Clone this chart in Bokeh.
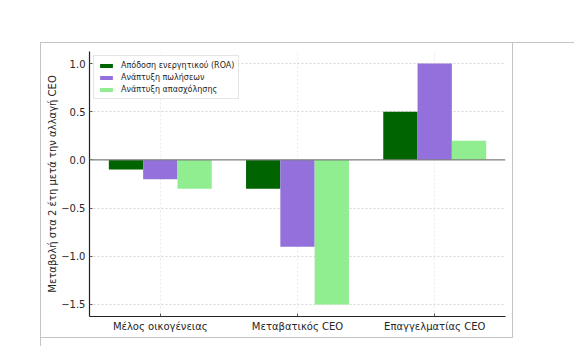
from bokeh.plotting import figure
from bokeh.models import Range1d, FactorRange, Span, Legend, LegendItem, FixedTicker, Div, Spacer
from bokeh.layouts import column, row
from bokeh.transform import dodge
from bokeh.embed import file_html
from bokeh.resources import INLINE

categories = ["Μέλος οικογένειας", "Μεταβατικός CEO", "Επαγγελματίας CEO"]
series_names = ["Απόδοση ενεργητικού (ROA)", "Ανάπτυξη πωλήσεων", "Ανάπτυξη απασχόλησης"]
roa = [-0.1, -0.3, 0.5]
sales = [-0.2, -0.9, 1.0]
employment = [-0.3, -1.5, 0.2]
y_ticks = [-1.5, -1.0, -0.5, 0.0, 0.5, 1.0]
y_label = "Μεταβολή στα 2 έτη μετά την αλλαγή CEO"

colors = ["#006400", "#9370DB", "#90EE90"]
FONT = "DejaVu Sans"
EDGE = "#c4c4c4"

p = figure(width=471, height=294, output_backend="svg", toolbar_location=None,
           x_range=FactorRange(*categories, range_padding=0.016, range_padding_units="absolute"),
           y_range=Range1d(-1.625, 1.125),
           min_border_left=48, min_border_right=7, min_border_top=8, min_border_bottom=21)
p.outline_line_color = None
p.background_fill_color = "white"
p.border_fill_color = "white"

data = dict(cat=categories, roa=roa, sales=sales, emp=employment)
renderers = []
for i, (key, col) in enumerate(zip(["roa", "sales", "emp"], colors)):
    r = p.vbar(x=dodge("cat", (i - 1) * 0.25, range=p.x_range), top=key, bottom=0, width=0.25,
               source=data, fill_color=col, line_color=None)
    renderers.append(r)

p.add_layout(Span(location=0, dimension="width", line_color="#808080", line_width=1.2))

# grid
p.ygrid.ticker = FixedTicker(ticks=y_ticks)
p.ygrid.grid_line_color = "#cccccc"
p.ygrid.grid_line_dash = "2 2"
p.ygrid.grid_line_width = 0.8
p.xgrid.grid_line_color = "#e4e4e4"
p.xgrid.grid_line_dash = "2 2"
p.xgrid.grid_line_width = 0.8

# axes
p.yaxis.ticker = FixedTicker(ticks=y_ticks)
p.yaxis.major_label_overrides = {t: f"{t:.1f}".replace("-", "\u2212") for t in y_ticks}
p.yaxis.axis_label = y_label
for ax in (p.xaxis[0], p.yaxis[0]):
    ax.axis_line_color = "#222222"
    ax.axis_line_width = 1.2
    ax.major_tick_in = 3
    ax.major_tick_out = 0
    ax.major_tick_line_color = "#555555"
    ax.minor_tick_line_color = None
    ax.major_label_text_font = FONT
    ax.major_label_text_font_size = "10px"
    ax.major_label_text_color = "#262626"
    ax.axis_label_text_font = FONT
    ax.axis_label_text_font_size = "10px"
    ax.axis_label_text_font_style = "normal"
    ax.axis_label_text_color = "#262626"
p.yaxis.major_label_standoff = 4
p.xaxis.major_label_standoff = 4
p.yaxis.axis_label_standoff = 0

legend = Legend(items=[LegendItem(label=n, renderers=[r]) for n, r in zip(series_names, renderers)],
                location="top_left", margin=4, padding=4, spacing=2,
                label_text_font=FONT, label_text_font_size="8px", label_text_color="#262626",
                label_height=10, glyph_height=5, glyph_width=16, label_standoff=7,
                border_line_color="#cccccc", border_line_width=1,
                background_fill_color="white", background_fill_alpha=0.85)
p.add_layout(legend)


def line(w, h):
    return Div(text="", width=w, height=h, margin=0, styles={"background-color": EDGE})


page = column(
    Spacer(width=574, height=42, margin=0),
    row(Spacer(width=40, height=1, margin=0), line(534, 1), spacing=0),
    row(Spacer(width=40, height=303, margin=0),
        line(1, 303),
        column(row(p, line(1, 294), spacing=0), line(472, 1), spacing=0),
        spacing=0),
    spacing=0,
)

open("out.html", "w").write(file_html(page, INLINE))
